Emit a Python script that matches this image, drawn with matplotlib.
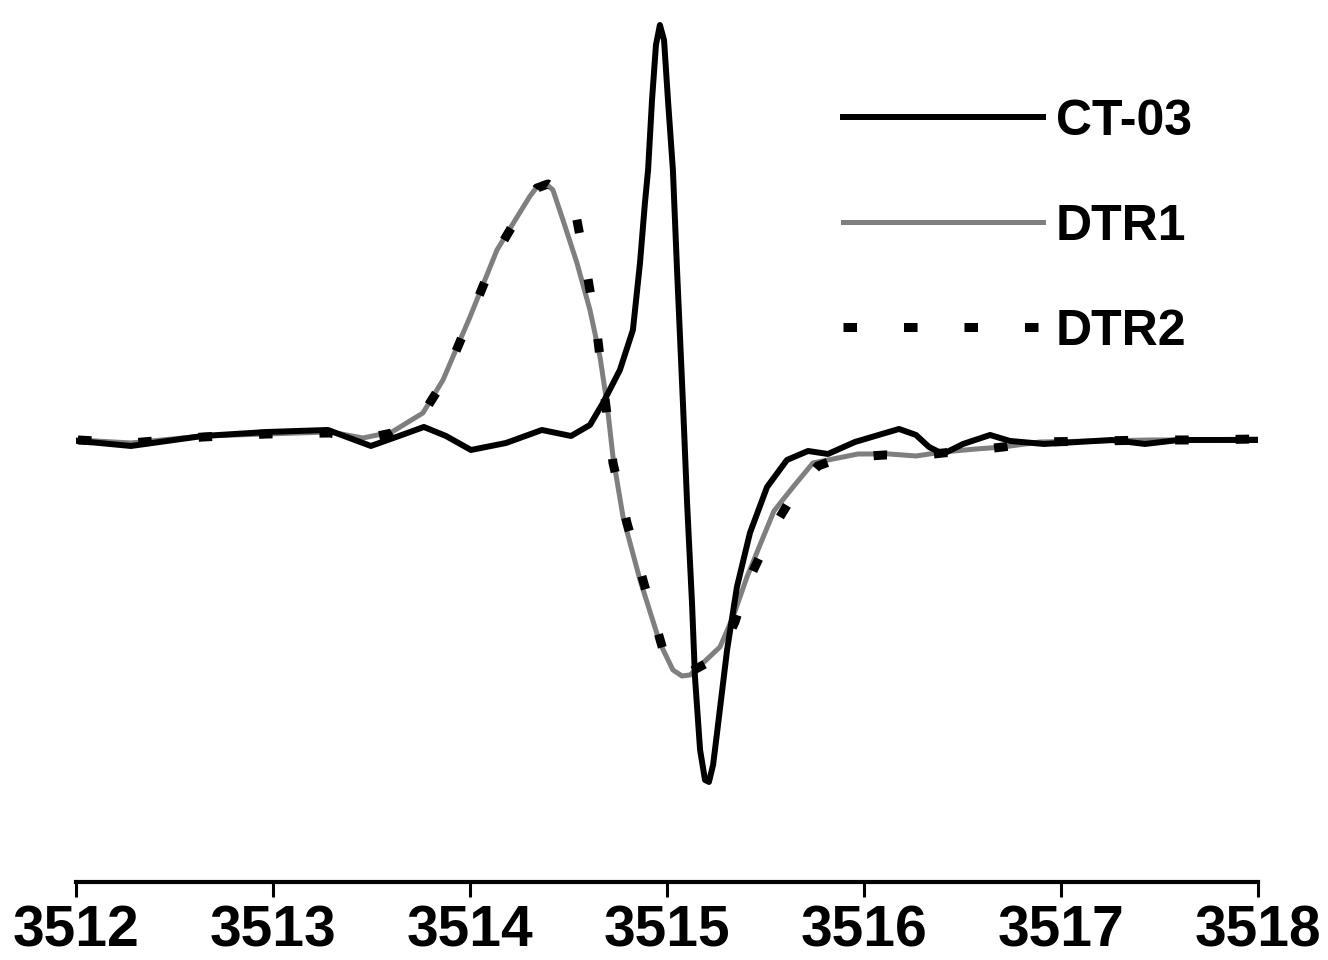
import matplotlib
matplotlib.use('Agg')
import matplotlib.pyplot as plt

plt.rcParams['font.family'] = ['Liberation Sans', 'DejaVu Sans']
plt.rcParams['font.weight'] = 'bold'

# magnetic field (G) and signal intensity (a.u.)
ct03_field = [3512.010, 3512.279, 3512.645, 3512.970, 3513.279, 3513.497, 3513.640,
              3513.766, 3513.878, 3514.005, 3514.183, 3514.365, 3514.513, 3514.609,
              3514.675, 3514.761, 3514.827, 3514.863, 3514.888, 3514.904, 3514.924,
              3514.944, 3514.964, 3514.985, 3515.005, 3515.030, 3515.051, 3515.081,
              3515.102, 3515.127, 3515.142, 3515.168, 3515.193, 3515.213, 3515.234,
              3515.254, 3515.305, 3515.355, 3515.421, 3515.508, 3515.609, 3515.716,
              3515.817, 3515.954, 3516.091, 3516.178, 3516.264, 3516.330, 3516.401,
              3516.503, 3516.640, 3516.741, 3516.914, 3517.086, 3517.259, 3517.426,
              3517.599, 3517.772, 3517.995]
ct03_signal = [-0.03, -0.08, 0.02, 0.06, 0.08, -0.08, 0.02,
               0.11, 0.02, -0.12, -0.05, 0.08, 0.02, 0.13,
               0.35, 0.68, 1.08, 1.75, 2.35, 2.68, 3.38,
               3.93, 4.13, 3.98, 3.38, 2.68, 1.68, 0.35,
               -0.65, -1.65, -2.39, -3.12, -3.42, -3.44, -3.27,
               -2.95, -2.12, -1.49, -0.95, -0.49, -0.22, -0.13,
               -0.16, -0.04, 0.04, 0.09, 0.03, -0.09, -0.16,
               -0.06, 0.03, -0.03, -0.06, -0.04, -0.02, -0.06,
               -0.02, -0.02, -0.02]

dtr1_field = [3512.010, 3512.279, 3512.645, 3512.970, 3513.289, 3513.457, 3513.604,
              3513.761, 3513.863, 3514.000, 3514.137, 3514.239, 3514.305, 3514.340,
              3514.381, 3514.421, 3514.472, 3514.543, 3514.609, 3514.660, 3514.695,
              3514.726, 3514.777, 3514.863, 3514.964, 3515.030, 3515.076, 3515.117,
              3515.183, 3515.269, 3515.335, 3515.406, 3515.472, 3515.543, 3515.640,
              3515.741, 3515.970, 3516.127, 3516.264, 3516.401, 3516.569, 3516.706,
              3516.893, 3517.198, 3517.452, 3517.706, 3517.995]
dtr1_signal = [-0.02, -0.05, 0.02, 0.04, 0.06, 0.00, 0.06,
               0.25, 0.58, 1.21, 1.88, 2.21, 2.42, 2.51,
               2.55, 2.48, 2.18, 1.75, 1.28, 0.81, 0.35,
               -0.19, -0.79, -1.42, -2.05, -2.32, -2.38, -2.37,
               -2.25, -2.09, -1.79, -1.39, -1.07, -0.73, -0.49,
               -0.25, -0.16, -0.16, -0.18, -0.14, -0.11, -0.09,
               -0.04, -0.03, -0.02, -0.02, -0.01]

dtr2_field = [3512.010, 3512.279, 3512.645, 3512.970, 3513.289, 3513.457, 3513.604,
              3513.761, 3513.863, 3514.000, 3514.137, 3514.239, 3514.340, 3514.396,
              3514.457, 3514.508, 3514.538, 3514.594, 3514.645, 3514.685, 3514.726,
              3514.797, 3514.888, 3514.980, 3515.041, 3515.091, 3515.193, 3515.279,
              3515.345, 3515.406, 3515.482, 3515.558, 3515.650, 3515.766, 3515.878,
              3516.107, 3516.264, 3516.401, 3516.569, 3516.706, 3516.893, 3517.198,
              3517.452, 3517.706, 3517.995]
dtr2_signal = [-0.02, -0.05, 0.01, 0.04, 0.05, -0.01, 0.05,
               0.24, 0.56, 1.20, 1.86, 2.20, 2.50, 2.54,
               2.46, 2.36, 2.23, 1.65, 1.05, 0.40, -0.25,
               -0.85, -1.49, -2.12, -2.34, -2.37, -2.26, -2.12,
               -1.84, -1.46, -1.14, -0.84, -0.54, -0.28, -0.20,
               -0.17, -0.18, -0.15, -0.12, -0.09, -0.04, -0.03,
               -0.02, -0.02, -0.01]

xticks = [3512, 3513, 3514, 3515, 3516, 3517, 3518]

fig = plt.figure(figsize=(13.28, 9.6), dpi=100)
ax = fig.add_axes([0.0572, 0.0813, 0.8901, 0.9187])

l_dtr1, = ax.plot(dtr1_field, dtr1_signal, color='#7f7f7f', lw=3.6, label='DTR1')
l_dtr2, = ax.plot(dtr2_field, dtr2_signal, color='black', lw=6.5,
                  linestyle=(0, (1.5, 5.2)), dash_capstyle='butt', label='DTR2')
l_ct, = ax.plot(ct03_field, ct03_signal, color='black', lw=4.3, label='CT-03')

ax.set_xlim(3512, 3518)
ax.set_ylim(-4.44, 4.38)
ax.set_xticks(xticks)
ax.set_xticklabels([str(t) for t in xticks])
ax.set_yticks([])
for s in ['left', 'right', 'top']:
    ax.spines[s].set_visible(False)
ax.spines['bottom'].set_linewidth(3)
ax.tick_params(axis='x', direction='out', length=11, width=2.2, pad=5,
               labelsize=41)
for lab in ax.get_xticklabels():
    lab.set_fontweight('bold')

leg = ax.legend(handles=[l_ct, l_dtr1, l_dtr2], loc='upper left',
                bbox_to_anchor=(0.6348, 0.897), bbox_transform=fig.transFigure,
                frameon=False, borderpad=0, borderaxespad=0,
                handlelength=4.0, handletextpad=0.26, labelspacing=1.18,
                prop={'size': 36, 'weight': 'bold'})

plt.savefig('out.png', dpi=100)
